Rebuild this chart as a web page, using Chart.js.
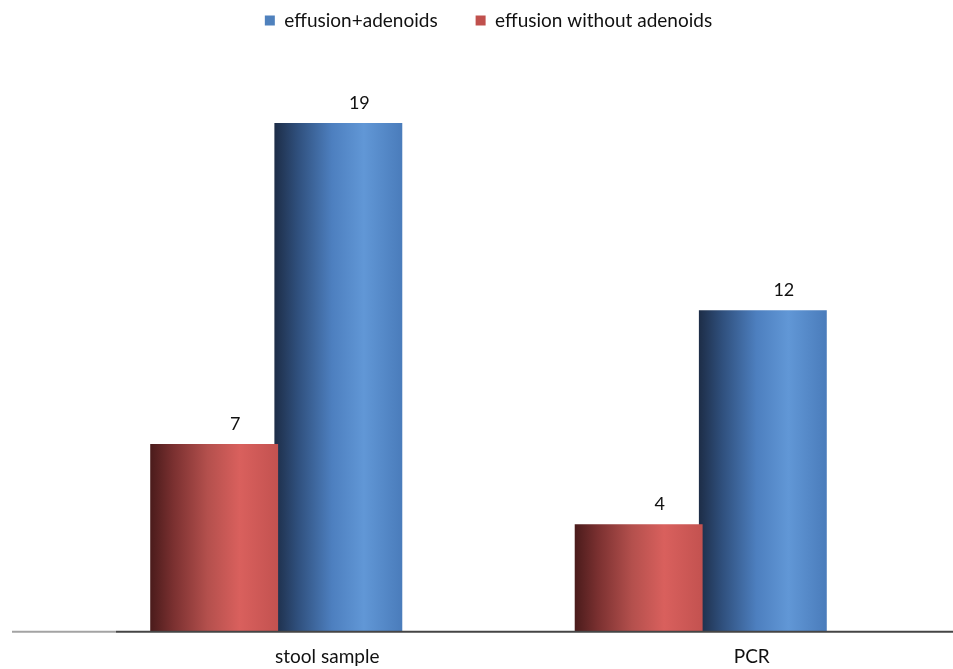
<!DOCTYPE html>
<html>
<head>
<meta charset="utf-8">
<script src="https://cdn.jsdelivr.net/npm/chart.js@4.4.1/dist/chart.umd.min.js"></script>
<style>
  html, body { margin: 0; padding: 0; background: #ffffff; }
  #wrap { width: 953px; height: 669px; }
</style>
</head>
<body>
<div id="wrap"><canvas id="c" width="953" height="669"></canvas></div>
<script>
// Categories and series
const categories = ['stool sample', 'PCR'];
const withoutAdenoids = [7, 4];
const withAdenoids = [19, 12];
const seriesNames = ['effusion without adenoids', 'effusion+adenoids'];

const FONT = 'Lato, "Open Sans", sans-serif';

// Horizontal shading stops for each series (cylinder-like look)
const shades = {
  red:  ['#4a1b1b', '#7a3030', '#b4504d', '#d9605d', '#c35250'],
  blue: ['#1d2d47', '#2f4f7c', '#4d7fbf', '#6197d6', '#4a7cbb']
};

// Paint each bar with a left-to-right gradient spanning its own width
const barShading = {
  id: 'barShading',
  beforeDatasetsDraw(chart) {
    const ctx = chart.ctx;
    chart.data.datasets.forEach((ds, i) => {
      const meta = chart.getDatasetMeta(i);
      const stops = shades[ds.shade];
      meta.data.forEach(el => {
        const l = el.x - el.width / 2, r = el.x + el.width / 2;
        const g = ctx.createLinearGradient(l, 0, r, 0);
        g.addColorStop(0.0, stops[0]);
        g.addColorStop(0.18, stops[1]);
        g.addColorStop(0.45, stops[2]);
        g.addColorStop(0.70, stops[3]);
        g.addColorStop(1.0, stops[4]);
        // give every bar its own options object so gradients are not shared
        el.options = Object.assign({}, el.options, { backgroundColor: g });
      });
    });
  }
};

// Baseline under the bars, running across the plot
const baseLine = {
  id: 'baseLine',
  afterDatasetsDraw(chart) {
    const ctx = chart.ctx;
    const y = chart.scales.y.getPixelForValue(0) + 0.5;
    ctx.save();
    ctx.lineWidth = 2;
    ctx.strokeStyle = '#a3a3a3';
    ctx.beginPath(); ctx.moveTo(12, y); ctx.lineTo(116, y); ctx.stroke();
    ctx.strokeStyle = '#454545';
    ctx.beginPath(); ctx.moveTo(116, y); ctx.lineTo(953, y); ctx.stroke();
    ctx.restore();
  }
};

// Value labels above every bar, nudged right as on a perspective plot
const valueLabels = {
  id: 'valueLabels',
  afterDatasetsDraw(chart) {
    const ctx = chart.ctx;
    ctx.save();
    ctx.font = '18px ' + FONT;
    ctx.fillStyle = '#111111';
    ctx.textAlign = 'center';
    ctx.textBaseline = 'alphabetic';
    chart.data.datasets.forEach((ds, i) => {
      chart.getDatasetMeta(i).data.forEach((el, j) => {
        ctx.fillText(String(ds.data[j]), el.x + 21, el.y - 14);
      });
    });
    ctx.restore();
  }
};

new Chart(document.getElementById('c'), {
  type: 'bar',
  data: {
    labels: categories,
    datasets: [
      { label: seriesNames[0], data: withoutAdenoids, shade: 'red', backgroundColor: '#c0504d', borderWidth: 0 },
      { label: seriesNames[1], data: withAdenoids, shade: 'blue', backgroundColor: '#4f81bd', borderWidth: 0 }
    ]
  },
  options: {
    responsive: false,
    animation: false,
    devicePixelRatio: 1,
    layout: { padding: { top: -27, left: 64, right: 40, bottom: -13 } },
    datasets: { bar: { categoryPercentage: 0.585, barPercentage: 1.03 } },
    plugins: {
      legend: {
        position: 'top',
        reverse: true,
        labels: {
          font: { size: 19, family: FONT },
          color: '#111111',
          boxWidth: 10,
          boxHeight: 10,
          padding: 38
        }
      },
      tooltip: { enabled: false }
    },
    scales: {
      x: {
        grid: { display: false, drawTicks: false },
        border: { display: false },
        ticks: { font: { size: 19, family: FONT }, color: '#111111', padding: 14, labelOffset: 51 }
      },
      y: {
        display: false,
        min: 0,
        max: 22.1
      }
    }
  },
  plugins: [barShading, baseLine, valueLabels]
});
</script>
</body>
</html>
